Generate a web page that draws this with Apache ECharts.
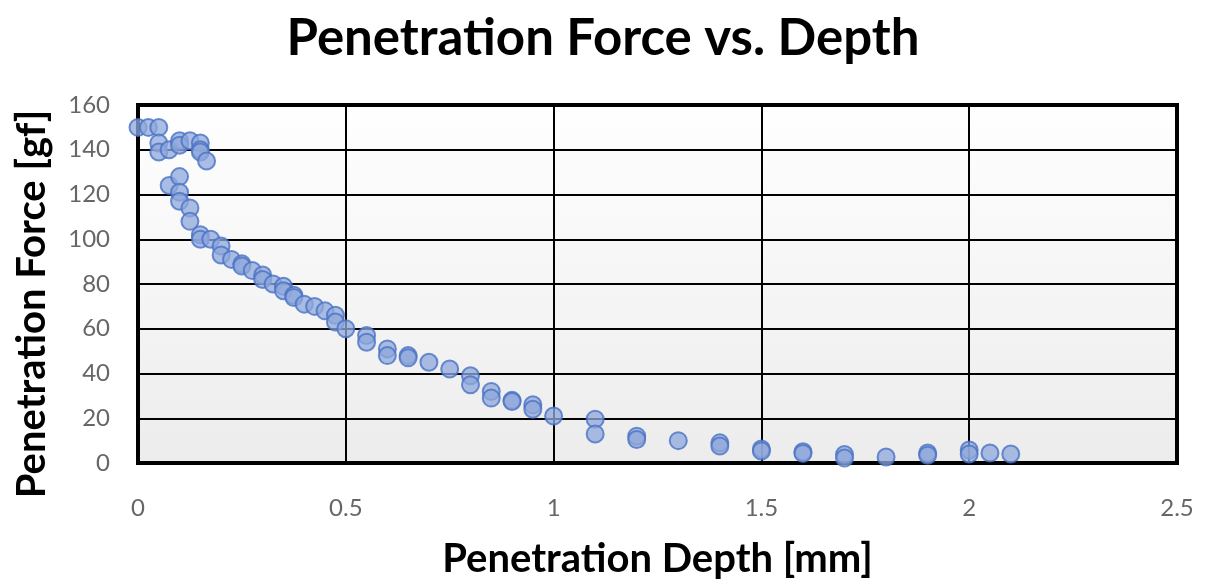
<!DOCTYPE html>
<html>
<head>
<meta charset="utf-8">
<script src="https://cdn.jsdelivr.net/npm/echarts@6/dist/echarts.min.js"></script>
<style>html,body{margin:0;padding:0;background:#fff;}#c{width:1206px;height:579px;}</style>
</head>
<body>
<div id="c"></div>
<script>
const depth = [0,0.025,0.05,0.05,0.05,0.075,0.1,0.1,0.125,0.15,0.15,0.15,0.165,
  0.075,0.1,0.1,0.1,0.125,0.125,0.15,0.15,0.175,0.2,0.2,0.225,0.25,0.25,0.275,0.3,0.3,0.325,0.35,0.35,0.375,0.375,0.4,0.425,0.45,0.475,0.475,0.5,
  0.55,0.55,0.6,0.6,0.65,0.65,0.7,0.75,0.8,0.8,0.85,0.85,0.9,0.9,0.95,0.95,1.0,
  1.1,1.1,1.2,1.2,1.3,1.4,1.4,1.5,1.5,1.6,1.6,1.7,1.7,1.8,1.9,1.9,2.0,2.0,2.05,2.1];
const force = [150,150,150,143,139,140,144,142,144,143,140,139,135,
  124,128,121,117,114,108,102,100,100,97,93,91,89,88,86,84,82,80,79,77,75,74,71,70,68,66,63,60,
  57,54,51,48,48,47,45,42,39,35,32,29,28,27.5,26,24,21,
  19.6,13,12,10.5,10,9,7.6,6.3,5.4,5,4.3,3.8,2.2,2.7,4.5,3.5,5.8,4,4.5,4];
const xTicks = {min:0, max:2.5, interval:0.5};
const yTicks = {min:0, max:160, interval:20};

const points = depth.map((d,i)=>[d, force[i]]);
const chart = echarts.init(document.getElementById('c'));
const font = 'Lato, "Open Sans", sans-serif';
chart.setOption({
  animation:false,
  title:{text:'Penetration Force vs. Depth', left:'center', top:8,
    textStyle:{fontFamily:font, fontWeight:'bold', fontSize:51, color:'#000'}},
  grid:{left:138, right:29, top:105, bottom:116, show:true, outerBoundsMode:'none', containLabel:false,
    borderColor:'#000', borderWidth:4,
    backgroundColor:{type:'linear',x:0,y:0,x2:0,y2:1,colorStops:[{offset:0,color:'#ffffff'},{offset:1,color:'#ececec'}]}},
  xAxis:{type:'value', min:xTicks.min, max:xTicks.max, interval:xTicks.interval,
    name:'Penetration Depth [mm]', nameLocation:'middle', nameGap:76,
    nameTextStyle:{fontFamily:font, fontWeight:'bold', fontSize:40, color:'#000'},
    axisLine:{show:false}, axisTick:{show:false},
    axisLabel:{fontFamily:font, fontSize:24, color:'#666666', margin:33},
    splitLine:{show:true, lineStyle:{color:'#000', width:2}}},
  yAxis:{type:'value', min:yTicks.min, max:yTicks.max, interval:yTicks.interval,
    name:'Penetration Force [gf]', nameLocation:'middle', nameGap:86,
    nameTextStyle:{fontFamily:font, fontWeight:'bold', fontSize:40, color:'#000', padding:[0,40,0,0]},
    axisLine:{show:false}, axisTick:{show:false},
    axisLabel:{fontFamily:font, fontSize:24, color:'#666666', margin:28},
    splitLine:{show:true, lineStyle:{color:'#000', width:2}}},
  series:[{type:'scatter', data:points, symbol:'circle', symbolSize:17,
    itemStyle:{color:'rgba(143,168,220,0.95)', borderColor:'#4a72c4', borderWidth:2}}]
});
</script>
</body>
</html>
